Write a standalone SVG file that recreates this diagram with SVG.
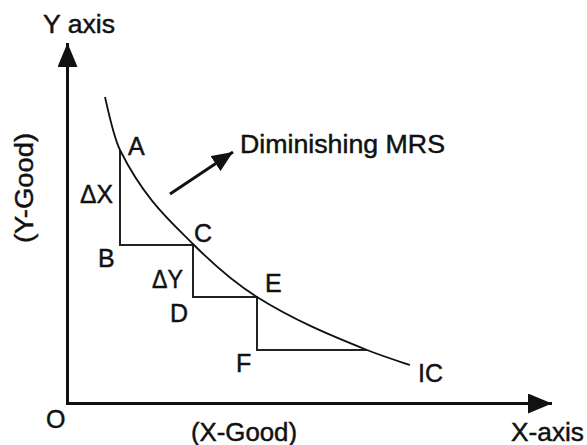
<svg xmlns="http://www.w3.org/2000/svg" width="587" height="445" viewBox="0 0 587 445">
<style>
.lbl{font-family:"Liberation Sans",Arial,Helvetica,sans-serif;font-size:25px;fill:#111;stroke:#111;stroke-width:0.45}
.ax{stroke:#111;stroke-width:3;fill:none}
.st{stroke:#222;stroke-width:2;fill:none}
.curve{stroke:#111;stroke-width:1.8;fill:none}
</style>
<defs>
<marker id="axhead" viewBox="0 0 24 20" markerWidth="24" markerHeight="20" refX="24" refY="10" orient="auto" markerUnits="userSpaceOnUse">
<path d="M0,0 L24,10 L0,20 Z" fill="#111"/>
</marker>
<marker id="mrshead" viewBox="0 0 21 18" markerWidth="21" markerHeight="18" refX="21" refY="9" orient="auto" markerUnits="userSpaceOnUse">
<path d="M0,0 L21,9 L0,18 Z" fill="#111"/>
</marker>
</defs>
<rect width="587" height="445" fill="#fff"/>
<g id="connectors">
<line class="ax" x1="67.5" y1="405" x2="67.5" y2="43" marker-end="url(#axhead)"/>
<line class="ax" x1="66" y1="403.5" x2="552" y2="403.5" marker-end="url(#axhead)"/>
<path class="st" d="M120,150 V245 H193 V297 H257 V350 H367"/>
<line stroke="#111" stroke-width="3" x1="170" y1="194" x2="233" y2="152" marker-end="url(#mrshead)"/>
</g>
<g id="ic-curve">
<path class="curve" d="M105,97 C110,119.5 115,140 120,150 C144.3,198.7 168.7,219.7 193,244 C214.3,265.3 235.7,283.6 257,297 C293.7,320.1 330.3,335.3 367,350 C381.3,355.7 395.7,360.3 410,365"/>
</g>
<g id="y-axis-label"><text class="lbl" x="43" y="33" textLength="72" lengthAdjust="spacingAndGlyphs">Y axis</text></g>
<g id="y-good-label"><text class="lbl" text-anchor="middle" transform="translate(33,188) rotate(-90)" textLength="110" lengthAdjust="spacingAndGlyphs">(Y-Good)</text></g>
<g id="mrs-label"><text class="lbl" x="240" y="153" font-size="24" textLength="205" lengthAdjust="spacingAndGlyphs">Diminishing MRS</text></g>
<g id="pt-A"><text class="lbl" x="128" y="155">A</text></g>
<g id="dx-label"><text class="lbl" x="80" y="203" textLength="33" lengthAdjust="spacingAndGlyphs">ΔX</text></g>
<g id="pt-B"><text class="lbl" x="98" y="267">B</text></g>
<g id="pt-C"><text class="lbl" x="194" y="242">C</text></g>
<g id="dy-label"><text class="lbl" x="152" y="288" textLength="31" lengthAdjust="spacingAndGlyphs">ΔY</text></g>
<g id="pt-D"><text class="lbl" x="170" y="322">D</text></g>
<g id="pt-E"><text class="lbl" x="265" y="292">E</text></g>
<g id="pt-F"><text class="lbl" x="236" y="372">F</text></g>
<g id="ic-label"><text class="lbl" x="418" y="382">IC</text></g>
<g id="origin"><text class="lbl" x="46" y="428">O</text></g>
<g id="x-good-label"><text class="lbl" x="191" y="441" textLength="106" lengthAdjust="spacingAndGlyphs">(X-Good)</text></g>
<g id="x-axis-label"><text class="lbl" x="511" y="441" textLength="73" lengthAdjust="spacingAndGlyphs">X-axis</text></g>
</svg>
